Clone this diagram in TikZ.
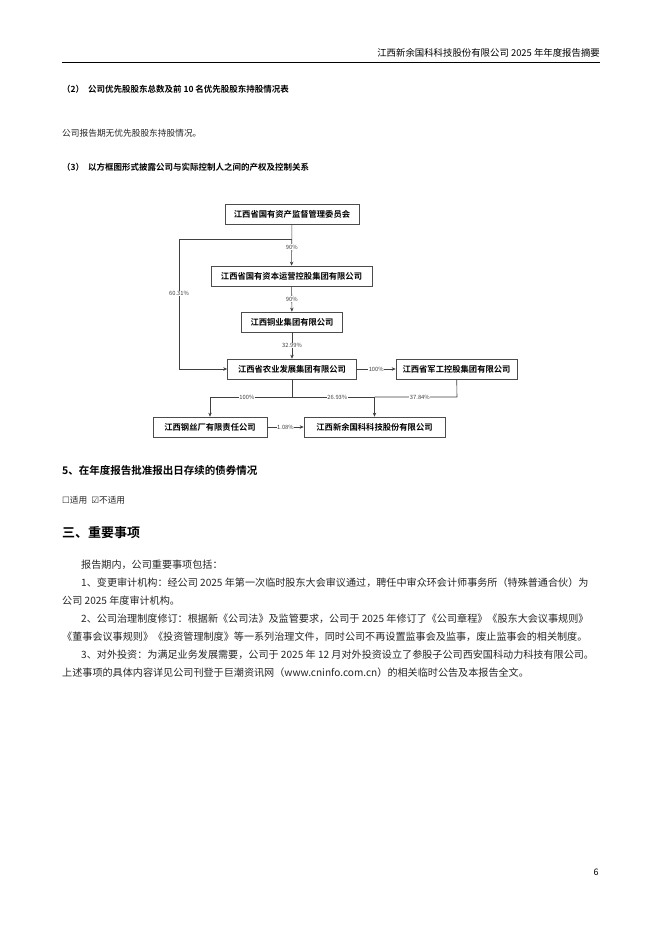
\documentclass[tikz,border=0pt]{standalone}
\usepackage{fontspec}
\setmainfont{Noto Sans CJK SC}
\newfontfamily\cjkb{Noto Sans CJK SC Bold}
\newfontfamily\dejavu{DejaVu Sans}
\usetikzlibrary{arrows.meta}
\begin{document}
\begin{tikzpicture}[x=1pt,y=-1pt,
  box/.style={draw=black!70,line width=0.7pt,minimum height=20pt,inner sep=2pt,font=\fontsize{8.3}{9}\selectfont\cjkb},
  ln/.style={draw=black!75,line width=0.6pt},
  arr/.style={ln,-{Stealth[length=4pt,width=3.5pt]}},
  pct/.style={fill=white,inner sep=0.6pt,font=\fontsize{5.8}{6}\selectfont,text=black!75},
  txt/.style={anchor=west,inner sep=0pt,font=\fontsize{10.1}{11}\selectfont,text=black!85},
  hd/.style={anchor=west,inner sep=0pt,font=\fontsize{8.5}{10}\selectfont\cjkb}]
\useasboundingbox (0,0) rectangle (662,936);
\fill[white] (0,0) rectangle (662,936);
% header
\node[anchor=east,inner sep=0pt,font=\fontsize{9.4}{10}\selectfont] (hdr) at (600,53) {江西新余国科科技股份有限公司 2025 年年度报告摘要};
\draw[line width=0.8pt] (62,62) -- (600,62);
\node[hd] (t1) at (62,89) {（2）\ \ 公司优先股股东总数及前 10 名优先股股东持股情况表};
\node[txt,font=\fontsize{8.7}{10}\selectfont] (t2) at (62,133) {公司报告期无优先股股东持股情况。};
\node[hd] (t3) at (62,167) {（3）\ \ 以方框图形式披露公司与实际控制人之间的产权及控制关系};
% diagram
\node[box,minimum width=134pt] (a) at (292,214) {江西省国有资产监督管理委员会};
\node[box,minimum width=161pt] (b) at (291.5,276) {江西省国有资本运营控股集团有限公司};
\node[box,minimum width=101pt] (c) at (292,322) {江西铜业集团有限公司};
\node[box,minimum width=129pt] (d) at (292,369) {江西省农业发展集团有限公司};
\node[box,minimum width=121pt] (e) at (456.5,369) {江西省军工控股集团有限公司};
\node[box,minimum width=114pt] (f) at (210,427) {江西钢丝厂有限责任公司};
\node[box,minimum width=141pt] (g) at (374.5,427) {江西新余国科科技股份有限公司};
\coordinate (j1) at (292,239);
\coordinate (l1) at (179,239);
\coordinate (l2) at (179,369);
\coordinate (br) at (292,397);
\coordinate (bl) at (210,397);
\coordinate (bm) at (374.5,397);
\coordinate (bx) at (457,397);
\draw[arr] (a) -- node[pct,pos=0.55]{90\%} (b);
\draw[arr] (b) -- node[pct]{90\%} (c);
\draw[arr] (c) -- node[pct]{32.99\%} (d);
\draw[ln] (j1) -- (l1);
\draw[arr] (l1) -- node[pct,pos=0.42]{60.31\%} (l2) -- (d.west);
\draw[arr] (d) -- node[pct]{100\%} (e);
\draw[ln] (d) -- (br);
\draw[arr] (br) -- node[pct,pos=0.55]{100\%} (bl) -- (f);
\draw[ln] (br) -- node[pct,pos=0.55]{26.93\%} (bm);
\draw[arr] (bm) -- (g);
\draw[ln] (e) -- (bx) -- node[pct,pos=0.45]{37.84\%} (bm);
\draw[arr] (f) -- node[pct]{1.08\%} (g);
% section 5
\node[hd,font=\fontsize{10.5}{12}\selectfont\cjkb] (s5) at (62,470) {5、在年度报告批准报出日存续的债券情况};
\node[txt,font=\fontsize{8.7}{10}\selectfont] (ck) at (62,500) {{\dejavu ☐}适用\ \ {\dejavu ☑}不适用};
\node[hd,font=\fontsize{13}{14}\selectfont\cjkb] (s3) at (62,533) {三、重要事项};
\node[txt] (p1) at (81,565) {报告期内，公司重要事项包括：};
\node[txt] (p2) at (81,583) {1、变更审计机构：经公司 2025 年第一次临时股东大会审议通过，聘任中审众环会计师事务所（特殊普通合伙）为};
\node[txt] (p3) at (62,601) {公司 2025 年度审计机构。};
\node[txt] (p4) at (81,619) {2、公司治理制度修订：根据新《公司法》及监管要求，公司于 2025 年修订了《公司章程》《股东大会议事规则》};
\node[txt] (p5) at (62,637) {《董事会议事规则》《投资管理制度》等一系列治理文件，同时公司不再设置监事会及监事，废止监事会的相关制度。};
\node[txt] (p6) at (81,655) {3、对外投资：为满足业务发展需要，公司于 2025 年 12 月对外投资设立了参股子公司西安国科动力科技有限公司。};
\node[txt] (p7) at (62,673) {上述事项的具体内容详见公司刊登于巨潮资讯网（www.cninfo.com.cn）的相关临时公告及本报告全文。};
\node[inner sep=0pt,font=\fontsize{9}{10}\selectfont] (pg) at (596,872) {6};
\end{tikzpicture}
\end{document}
